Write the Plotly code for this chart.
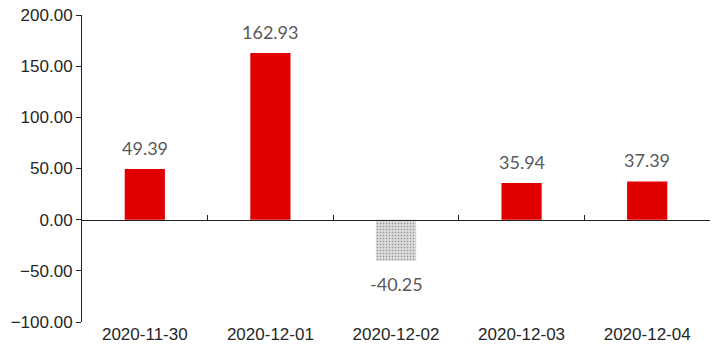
import plotly.graph_objects as go

categories = ["2020-11-30", "2020-12-01", "2020-12-02", "2020-12-03", "2020-12-04"]
values = [49.39, 162.93, -40.25, 35.94, 37.39]
y_ticks = [-100, -50, 0, 50, 100, 150, 200]
y_min, y_max = -100, 200

colors = ["#E10000" if v >= 0 else "#DADADA" for v in values]
patterns = ["" if v >= 0 else "." for v in values]

fig = go.Figure()
fig.add_trace(go.Bar(
    x=categories, y=values, width=0.32,
    marker=dict(color=colors, line=dict(width=0),
                pattern=dict(shape=patterns, fgcolor="#D3D3D3", bgcolor="#DDDDDD",
                             size=3, solidity=0.2)),
    hoverinfo="skip",
))
# invisible trace for the zero-line axis
fig.add_trace(go.Scatter(x=categories, y=[0]*len(categories), xaxis="x2",
                         mode="markers", marker=dict(opacity=0), hoverinfo="skip"))

for c, v in zip(categories, values):
    fig.add_annotation(
        x=c, y=v, text=f"{v:.2f}", showarrow=False,
        yanchor="bottom" if v >= 0 else "top",
        yshift=8 if v >= 0 else -10,
        font=dict(family="Lato", size=18, color="#595959"),
    )

tick_font = dict(family="Liberation Sans", size=17, color="#262626")

fig.update_layout(
    width=714, height=357,
    margin=dict(l=82, r=4, t=15, b=35),
    paper_bgcolor="white", plot_bgcolor="white",
    showlegend=False,
    xaxis=dict(type="category", range=[-0.5, 4.5], showline=False, ticks="",
               showgrid=False, zeroline=False, automargin=False,
               tickfont=tick_font),
    xaxis2=dict(type="category", range=[-0.5, 4.5], overlaying="x", anchor="free",
                position=(0 - y_min) / (y_max - y_min), side="bottom",
                showline=True, linecolor="#222", linewidth=1.3,
                ticks="inside", tickson="boundaries", ticklen=5, tickcolor="#222",
                showticklabels=False, showgrid=False, zeroline=False, automargin=False),
    yaxis=dict(range=[y_min, y_max], tickvals=y_ticks, tickformat=".2f",
               showline=True, linecolor="#222", linewidth=1,
               ticks="outside", ticklen=5, tickcolor="#222",
               showgrid=False, zeroline=False, automargin=False,
               tickfont=tick_font),
)

fig.write_html("out.html", config={"displayModeBar": False},
               post_script="document.body.style.margin='0';")
